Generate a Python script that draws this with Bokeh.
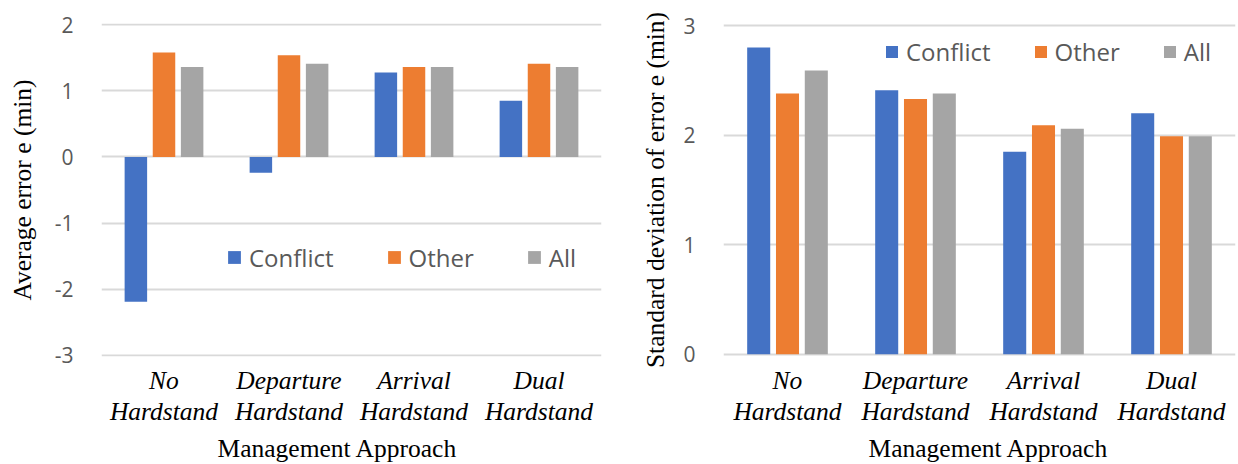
from bokeh.plotting import figure
from bokeh.layouts import row
from bokeh.models import Range1d, FactorRange, FixedTicker, Title
from bokeh.transform import dodge
from bokeh.embed import file_html
from bokeh.resources import INLINE

categories = ["No\nHardstand", "Departure\nHardstand", "Arrival\nHardstand", "Dual\nHardstand"]
series = ["Conflict", "Other", "All"]
colors = ["#4472C4", "#ED7D31", "#A5A5A5"]

avg_conflict = [-2.19, -0.24, 1.28, 0.85]
avg_other = [1.58, 1.54, 1.36, 1.41]
avg_all = [1.36, 1.41, 1.36, 1.36]

std_conflict = [2.80, 2.41, 1.85, 2.20]
std_other = [2.38, 2.33, 2.09, 1.99]
std_all = [2.59, 2.38, 2.06, 1.99]

left_ticks = [-3, -2, -1, 0, 1, 2]
right_ticks = [0, 1, 2, 3]

SANS = "Open Sans"
SERIF = "Liberation Serif"


def make_chart(values, ylabel, yr, ticks, width, bl, br, legend_loc, legend_spacing, glyph,
               title_standoff, xtitle_offset):
    p = figure(x_range=FactorRange(*categories), y_range=Range1d(*yr),
               width=width, height=464, output_backend="svg", toolbar_location=None,
               min_border_left=bl, min_border_right=br, min_border_top=23, min_border_bottom=107)
    offsets = [-0.225, 0.0, 0.225]
    for name, vals, col, off in zip(series, values, colors, offsets):
        src = {"cat": categories, "v": vals}
        p.vbar(x=dodge("cat", off, range=p.x_range), top="v", bottom=0, width=0.18,
               source=src, fill_color=col, line_color=None, legend_label=name)
    p.outline_line_color = None
    p.xgrid.grid_line_color = None
    p.ygrid.grid_line_color = "#D9D9D9"
    p.ygrid.grid_line_width = 2
    p.yaxis.ticker = FixedTicker(ticks=ticks)
    p.yaxis.major_label_overrides = {t: str(t) for t in ticks}
    for ax in (p.xaxis[0], p.yaxis[0]):
        ax.axis_line_color = None
        ax.major_tick_line_color = None
        ax.minor_tick_line_color = None
        ax.major_tick_out = 0
        ax.major_tick_in = 0
    p.yaxis.major_label_text_font = SANS
    p.yaxis.major_label_text_font_size = "21px"
    p.yaxis.major_label_text_color = "#595959"
    p.yaxis.major_label_standoff = 28
    p.yaxis.axis_label = ylabel
    p.yaxis.axis_label_text_font = SERIF
    p.yaxis.axis_label_text_font_style = "normal"
    p.yaxis.axis_label_text_font_size = "25.5px"
    p.yaxis.axis_label_text_color = "black"
    p.yaxis.axis_label_standoff = title_standoff

    p.xaxis.major_label_text_font = SERIF
    p.xaxis.major_label_text_font_style = "italic"
    p.xaxis.major_label_text_font_size = "25.5px"
    p.xaxis.major_label_text_line_height = 1.1
    p.xaxis.major_label_text_color = "black"
    p.xaxis.major_label_standoff = 9

    t = Title(text="Management Approach", align="left", offset=xtitle_offset,
              text_font=SERIF, text_font_style="normal", text_font_size="25.5px",
              text_color="black", standoff=4)
    p.add_layout(t, "below")

    lg = p.legend[0]
    lg.orientation = "horizontal"
    lg.location = legend_loc
    lg.background_fill_alpha = 0
    lg.border_line_color = None
    lg.padding = 0
    lg.margin = 0
    lg.spacing = legend_spacing
    lg.glyph_width = glyph
    lg.glyph_height = glyph
    lg.label_standoff = 7
    lg.label_text_font = SANS
    lg.label_text_font_size = "24px"
    lg.label_text_color = "#595959"
    return p


p1 = make_chart([avg_conflict, avg_other, avg_all], "Average error e (min)", (-3.02, 2.02),
                left_ticks, 620, 101, 19, (125, 82.5), 52, 16, 15, 116)
p2 = make_chart([std_conflict, std_other, std_all], "Standard deviation of error e (min)", (-0.02, 3.02),
                right_ticks, 618, 103, 3, (161, 288.5), 42, 15, 10, 145)

layout = row(p1, p2)
open("out.html", "w").write(file_html(layout, INLINE))
